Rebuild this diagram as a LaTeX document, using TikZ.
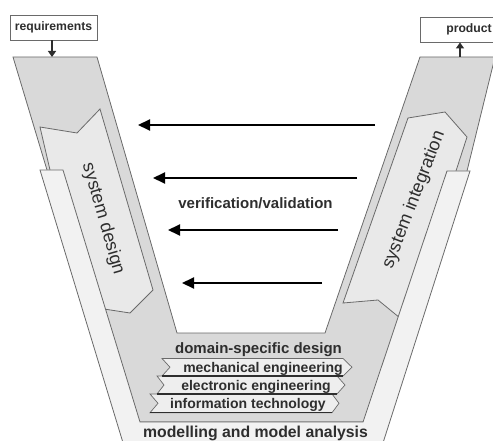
\documentclass[tikz,border=0pt]{standalone}
\usepackage{fontspec}
\setmainfont{Liberation Sans}
\usetikzlibrary{arrows.meta}

\definecolor{vgray}{HTML}{D9D9D9}
\definecolor{panelgray}{HTML}{E9E9E9}
\definecolor{stripgray}{HTML}{F2F2F2}
\definecolor{bannergray}{HTML}{EEEEEE}
\definecolor{edgegray}{HTML}{6A6A6A}
\definecolor{inkgray}{HTML}{2E2E2E}

\begin{document}
\begin{tikzpicture}[x=1pt,y=-1pt,
  outline/.style={draw=edgegray,line width=0.8pt,line join=miter},
  vlabel/.style={text=inkgray,inner sep=0pt,font=\bfseries\fontsize{15}{17}\selectfont},
  sidelabel/.style={text=inkgray,inner sep=0pt,font=\fontsize{18}{20}\selectfont},
  bannertext/.style={text=inkgray,inner sep=0pt,anchor=base,font=\bfseries\fontsize{14}{16}\selectfont},
  bannerbox/.style={draw=edgegray,fill=bannergray,line width=0.7pt},
  bannerbase/.style={draw=inkgray,line width=1.3pt},
  tag/.style={draw=edgegray,fill=white,line width=0.9pt,inner sep=0pt,text=inkgray,
    font=\bfseries\fontsize{12.2}{14}\selectfont},
  smallarrow/.style={draw=inkgray,line width=1.4pt,-{Triangle[length=6pt,width=8pt]}},
  vvarrow/.style={draw=black,line width=2pt,-{Triangle[length=12pt,width=11pt]}}
]
\useasboundingbox (0,0) rectangle (493,441);
\clip (0,0) rectangle (493,441);

% the V-shaped development band
\path[outline,fill=vgray] (13,57) -- (97,57) -- (177,333) -- (325,333) -- (420,57)
  -- (495,57) -- (467,171) -- (375,422) -- (128,422) -- (47,170) -- cycle;

% system design and system integration pennants
\path[outline,fill=panelgray] (40,127) -- (77,133) -- (100,109) -- (153,290)
  -- (130,313) -- (104,309) -- (50,170) -- cycle;
\path[outline,fill=panelgray] (408,118) -- (445,112) -- (467,137) -- (456,171)
  -- (400,318) -- (378,300) -- (343,303) -- cycle;

% modelling and model analysis band, lying over the arms
\path[outline,fill=stripgray] (40,170) -- (63,170) -- (140,422) -- (363,422)
  -- (447,171) -- (470,171) -- (382,446) -- (124,446) -- cycle;

% arm labels
\node[sidelabel,rotate=-74] (sd) at (103,219) {system design};
\node[sidelabel,rotate=69] (si) at (414,200) {system integration};

% verification / validation arrows
\coordinate (r1) at (375,125); \coordinate (l1) at (138,125);
\coordinate (r2) at (357,178); \coordinate (l2) at (153,178);
\coordinate (r3) at (338,230); \coordinate (l3) at (168,230);
\coordinate (r4) at (322,283); \coordinate (l4) at (182,283);
\draw[vvarrow] (r1) -- (l1);
\draw[vvarrow] (r2) -- (l2);
\draw[vvarrow] (r3) -- (l3);
\draw[vvarrow] (r4) -- (l4);
\node[vlabel,anchor=base] (vv) at (255.5,208.5) {verification/validation};

% domain-specific design
\node[vlabel,anchor=base] (dsd) at (258.5,353) {domain-specific design};
\path[bannerbox] (162,358.5) -- (343,358.5) -- (352,367.2) -- (343,376)
  -- (162,376) -- (170,367.2) -- cycle;
\path[bannerbox] (157,376) -- (337,376) -- (345,385) -- (337,394)
  -- (157,394) -- (164,385) -- cycle;
\path[bannerbox] (150,394) -- (332,394) -- (339,403.3) -- (332,412.7)
  -- (150,412.7) -- (158,403.3) -- cycle;
\draw[bannerbase] (162,376) -- (343,376);
\draw[bannerbase] (157,394) -- (337,394);
\draw[bannerbase] (150,412.7) -- (332,412.7);
\node[bannertext] (mech) at (263,372.5) {mechanical engineering};
\node[bannertext] (elec) at (256,390.5) {electronic engineering};
\node[bannertext] (info) at (248,408.5) {information technology};

\node[vlabel,anchor=base,font=\bfseries\fontsize{15.8}{17}\selectfont] (mma) at (255.5,437.5)
  {modelling and model analysis};

% input and output
\node[tag,minimum width=87pt,minimum height=25pt] (req) at (53.5,27.5) {requirements};
\node[tag,minimum width=98pt,minimum height=25pt,text width=92pt,align=center] (prod) at (469,29.5) {product};
\coordinate (reqin) at (52,57);
\coordinate (prodout) at (460,57);
\draw[smallarrow] (reqin |- req.south) -- (reqin);
\draw[smallarrow] (prodout) -- (prodout |- prod.south);
\end{tikzpicture}
\end{document}
